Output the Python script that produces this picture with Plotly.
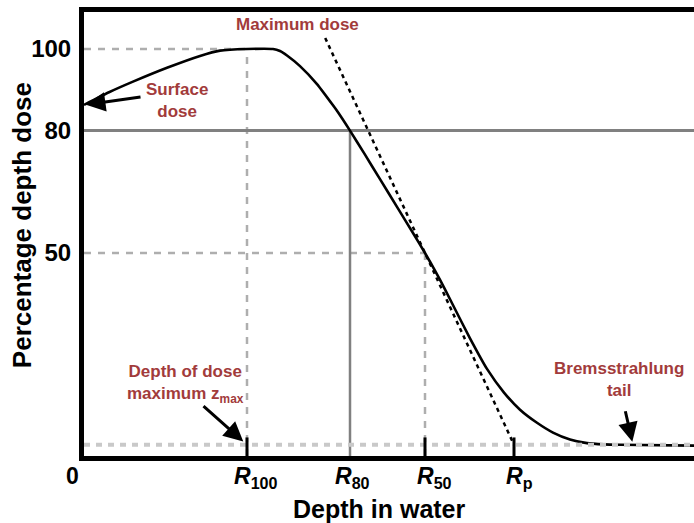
import plotly.graph_objects as go

# Electron beam percentage depth dose (schematic), depth in cm
depth = [0.00, 0.25, 0.49, 0.83, 1.16, 1.36, 1.63, 1.89, 1.96, 2.03, 2.16, 2.33, 2.49,
         2.54, 2.66, 2.81, 2.96, 3.13, 3.29, 3.41, 3.51, 3.61, 3.73, 3.86, 4.03,
         4.20, 4.36, 4.53, 4.69, 4.86, 5.03, 5.20, 5.36, 6.10]
dose = [86.3, 89.4, 92.0, 95.4, 98.3, 99.6, 100.0, 100.0, 99.5, 98.4, 95.8, 91.4, 86.2,
        84.5, 80.0, 74.1, 68.1, 61.3, 54.9, 50.0, 45.7, 41.1, 35.3, 29.1, 21.6,
        15.8, 11.6, 8.4, 6.0, 4.3, 3.4, 3.1, 3.0, 2.8]

# Characteristic depths
R100, R80, R50, RP = 1.63, 2.66, 3.41, 4.30
TAIL = 3.0           # bremsstrahlung background level (%)
TANGENT_TOP = 102.7  # upper end of the tangent through R50

y_ticks = [100, 80, 50]
x_labels = ["0", "<i>R</i><sub>100</sub>", "<i>R</i><sub>80</sub>",
            "<i>R</i><sub>50</sub>", "<i>R</i><sub>p</sub>"]
x_label_pos = [0, R100, R80, R50, RP]

X_MAX = 6.1
Y_MIN, Y_MAX = 0.25, 109.07

FONT = "Liberation Sans, Arial, sans-serif"
RED = "#a23b3b"
GRID = "#aeaeae"

fig = go.Figure()

# Tangent at the steepest part, extrapolated to the background level at Rp
slope = (50.0 - TAIL) / (RP - R50)
x_top = R50 - (TANGENT_TOP - 50.0) / slope
fig.add_trace(go.Scatter(x=[x_top, RP], y=[TANGENT_TOP, TAIL], mode="lines",
                         line=dict(color="black", width=2.5, dash="4px,4px"),
                         hoverinfo="skip", showlegend=False))

# Depth dose curve
fig.add_trace(go.Scatter(x=depth, y=dose, mode="lines",
                         line=dict(color="black", width=2.6, shape="spline", smoothing=0.5),
                         showlegend=False))

shapes = []
# 100 % and 50 % reference lines (dashed)
for xv, yv in [(R100, 100), (R50, 50)]:
    shapes.append(dict(type="line", xref="x", yref="y", x0=0, x1=xv, y0=yv, y1=yv,
                       line=dict(color=GRID, width=2.5, dash="7px,7px"), layer="below"))
    shapes.append(dict(type="line", xref="x", yref="y", x0=xv, x1=xv, y0=Y_MIN, y1=yv,
                       line=dict(color=GRID, width=2.5, dash="7px,7px"), layer="below"))
# 80 % reference lines (solid)
shapes.append(dict(type="line", xref="x", yref="y", x0=0, x1=X_MAX, y0=80, y1=80,
                   line=dict(color="#808080", width=3), layer="below"))
shapes.append(dict(type="line", xref="x", yref="y", x0=R80, x1=R80, y0=Y_MIN, y1=80,
                   line=dict(color="#808080", width=2.5), layer="below"))
# Bremsstrahlung background level
shapes.append(dict(type="line", xref="x", yref="y", x0=0, x1=X_MAX, y0=TAIL, y1=TAIL,
                   line=dict(color="#c9c9c9", width=4, dash="6px,6px"), layer="above"))
# Short markers at R100, R50 and Rp
for xv in [R100, R50, RP]:
    shapes.append(dict(type="line", xref="x", yref="y", x0=xv, x1=xv, y0=Y_MIN, y1=TAIL + 1.8,
                       line=dict(color="black", width=3), layer="above"))

annotations = []
# Depth axis labels
label_anchor = ["center", "left", "left", "left", "left"]
label_shift = [-12, -15, -17, -10, -10]
for txt, xv, anc, sh in zip(x_labels, x_label_pos, label_anchor, label_shift):
    annotations.append(dict(text=txt, x=xv, y=Y_MIN, xref="x", yref="y",
                            xanchor=anc, yanchor="top", xshift=sh, yshift=-5,
                            showarrow=False,
                            font=dict(family=FONT, size=23, color="black", weight="bold")))

# Axis titles
annotations.append(dict(text="Depth in water", x=0.485, y=-0.12, xref="paper", yref="paper",
                        xanchor="center", yanchor="middle", showarrow=False,
                        font=dict(family=FONT, size=25, color="black", weight="bold")))
annotations.append(dict(text="Percentage depth dose", x=-0.1016, y=0.52, xref="paper",
                        yref="paper", xanchor="center", yanchor="middle", textangle=-90,
                        showarrow=False,
                        font=dict(family=FONT, size=26, color="black", weight="bold")))

# Callout texts
callouts = [
    ("Maximum dose", 2.13, 105.9),
    ("Surface<br>dose", 0.93, 87.5),
    ("Depth of dose<br>maximum z<sub>max</sub>", 1.01, 17.9),
    ("Bremsstrahlung<br>tail", 5.35, 19.1),
]
for txt, xv, yv in callouts:
    annotations.append(dict(text=txt, x=xv, y=yv, xref="x", yref="y",
                            xanchor="center", yanchor="middle", showarrow=False,
                            font=dict(family=FONT, size=17, color=RED, weight="bold")))

# Callout arrows
arrows = [
    (depth[0], dose[0], 58, -8, 2),
    (R100, TAIL, -45, -40, 5),
    (5.49, TAIL, -8, -35, 3),
]
for xv, yv, ax, ay, so in arrows:
    annotations.append(dict(text="", x=xv, y=yv, xref="x", yref="y", ax=ax, ay=ay,
                            showarrow=True, arrowhead=2, arrowsize=1.3, arrowwidth=3,
                            arrowcolor="black", standoff=so))

fig.update_layout(
    width=694, height=523,
    margin=dict(l=84, r=0, t=12, b=67),
    paper_bgcolor="white", plot_bgcolor="white",
    shapes=shapes, annotations=annotations,
    xaxis=dict(range=[0, X_MAX], showgrid=False, zeroline=False, showline=True,
               linewidth=5, linecolor="black", mirror=True, showticklabels=False,
               ticks=""),
    yaxis=dict(range=[Y_MIN, Y_MAX], showgrid=False, zeroline=False, showline=True,
               linewidth=5, linecolor="black", tickvals=y_ticks,
               ticktext=[str(v) for v in y_ticks], ticks="outside", ticklen=3,
               tickcolor="white",
               tickfont=dict(family=FONT, size=24, color="black", weight="bold")),
)

fig.write_html("out.html")
